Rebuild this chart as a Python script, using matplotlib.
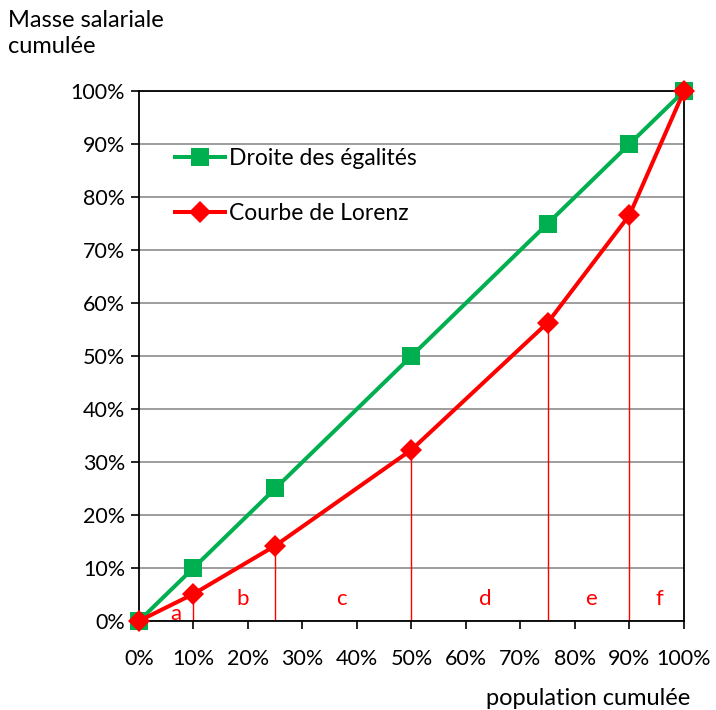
import matplotlib
matplotlib.use("Agg")
import matplotlib.pyplot as plt
from matplotlib.ticker import MultipleLocator, FuncFormatter

# Cumulative population share (x) and cumulative wage share (y), in %
population = [0, 10, 25, 50, 75, 90, 100]
egalite = [0, 10, 25, 50, 75, 90, 100]
lorenz = [0, 5.1, 14.2, 32.3, 56.3, 76.6, 100]

# Labels for the areas between drop lines
zone_labels = ["a", "b", "c", "d", "e", "f"]
zone_x = [6.8, 19, 37.2, 63.5, 83, 95.5]
zone_y = [1.4, 4.1, 4.1, 4.1, 4.1, 4.1]

GREEN = "#00B050"
RED = "#FF0000"

plt.rcParams["font.family"] = ["Lato", "DejaVu Sans"]

fig = plt.figure(figsize=(7.16, 7.10), dpi=100)
ax = fig.add_axes([0.1941, 0.1254, 0.7612, 0.7464])

ax.set_xlim(0, 100)
ax.set_ylim(0, 100)

ax.yaxis.grid(True, color="#8c8c8c", linewidth=1.2, zorder=0)
ax.set_axisbelow(True)

# Drop lines from each Lorenz point to the x axis
for xv, yv in zip(population[1:-1], lorenz[1:-1]):
    ax.plot([xv, xv], [0, yv], color=RED, linewidth=1.0, zorder=2)

ax.plot(population, egalite, color=GREEN, linewidth=2.9, marker="s",
        markersize=13.5, markeredgewidth=0, label="Droite des égalités",
        zorder=3, clip_on=False)
ax.plot(population, lorenz, color=RED, linewidth=2.9, marker="D",
        markersize=11, markeredgewidth=0, label="Courbe de Lorenz",
        zorder=4, clip_on=False)

for lab, xv, yv in zip(zone_labels, zone_x, zone_y):
    ax.text(xv, yv, lab, color=RED, fontsize=16, ha="center", va="center")

ax.xaxis.set_major_locator(MultipleLocator(10))
ax.yaxis.set_major_locator(MultipleLocator(10))
pct = FuncFormatter(lambda v, p: f"{v:.0f}%")
ax.xaxis.set_major_formatter(pct)
ax.yaxis.set_major_formatter(pct)
ax.tick_params(axis="both", direction="out", length=6, width=1.2,
               labelsize=15.5, colors="black")
ax.tick_params(axis="x", pad=14)
ax.tick_params(axis="y", pad=4)

for s in ax.spines.values():
    s.set_color("black")
    s.set_linewidth(1.3)

leg = ax.legend(loc="upper left", bbox_to_anchor=(0.066, 0.893), frameon=False,
                fontsize=16.5, handlelength=2.17, handletextpad=0.17,
                labelspacing=1.5, borderaxespad=0, borderpad=0)

fig.text(0.011, 0.986, "Masse salariale\ncumulée", fontsize=17, ha="left",
         va="top", linespacing=1.3)
fig.text(0.679, 0.016, "population cumulée", fontsize=17, ha="left",
         va="center")

fig.savefig("out.png", dpi=100)
